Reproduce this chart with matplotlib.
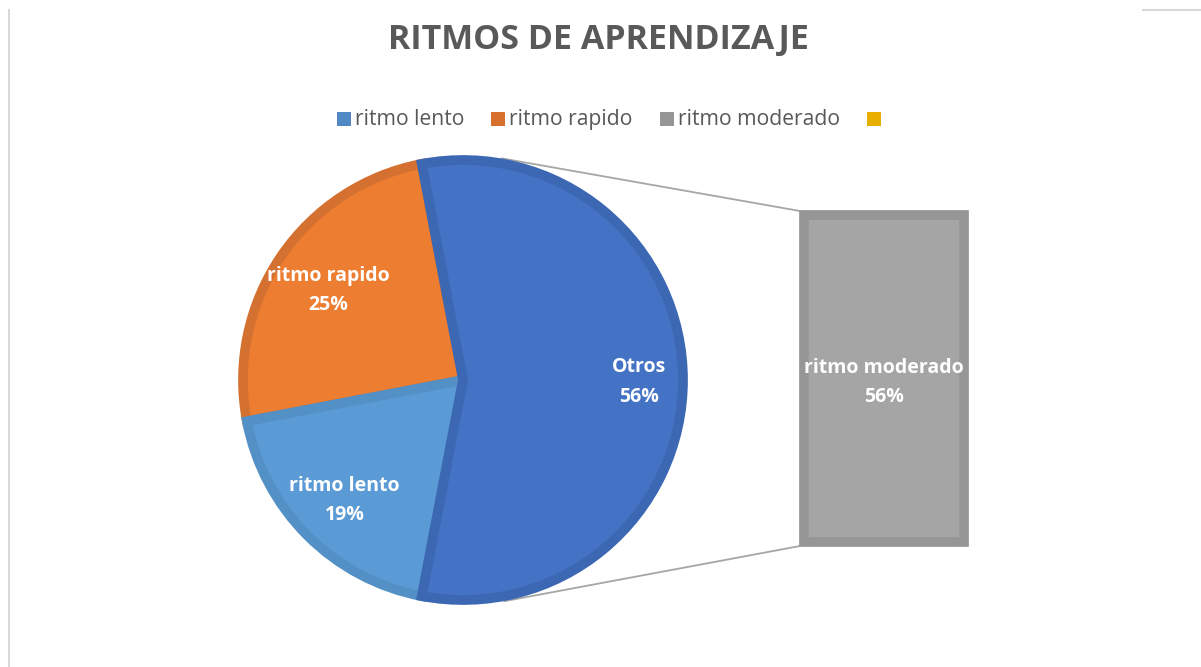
import numpy as np
import matplotlib
matplotlib.use("Agg")
import matplotlib.pyplot as plt
from matplotlib.patches import Rectangle
from matplotlib.lines import Line2D

plt.rcParams['font.family'] = ['Open Sans', 'DejaVu Sans']

# ---- data ----
title = "RITMOS DE APRENDIZAJE"
legend_labels = ["ritmo lento", "ritmo rapido", "ritmo moderado", ""]
pie_labels = ["Otros", "ritmo rapido", "ritmo lento"]
pie_values = [56, 25, 19]
bar_labels = ["ritmo moderado"]
bar_values = [56]

face_cols = ["#4472C4", "#ED7D31", "#5B9BD5"]
edge_cols = ["#3C67B3", "#D57130", "#5290C6"]
legend_cols = ["#5089C3", "#D6702C", "#969696", "#E8AE00"]
bar_face = "#A5A5A5"
bar_edge = "#969696"

W, H = 1201, 667
fig = plt.figure(figsize=(W / 100, H / 100), dpi=100)
ax = fig.add_axes([0, 0, 1, 1])

cx, cy, R = 463, H - 380, 220
total = sum(pie_values)
start = -pie_values[0] / total * 180.0
wedges, _ = ax.pie(pie_values, startangle=start, counterclock=True,
                   center=(cx, cy), radius=R, frame=True,
                   colors=face_cols,
                   wedgeprops=dict(linewidth=7, joinstyle='miter'))
for w, ec, z in zip(wedges, edge_cols, [3, 1, 2]):
    w.set_edgecolor(ec)
    w.set_zorder(z)

# labels on pie
dists = [0.80, 0.74, 0.76]
angle = start
for lab, v, d in zip(pie_labels, pie_values, dists):
    span = v / total * 360.0
    mid = np.deg2rad(angle + span / 2)
    ax.text(cx + d * R * np.cos(mid), cy + d * R * np.sin(mid) - 2,
            f"{lab}\n{v / total * 100:.0f}%", ha='center', va='center',
            color='white', fontsize=14, fontweight='bold', linespacing=1.6, zorder=5)
    angle += span

# bar of the "Otros" group
bx, bw = 884, 160
btop = H - 215
bh = 327
scale = bh / bar_values[0]
ax.bar([bx], [bar_values[0] * scale], width=bw, bottom=btop - bar_values[0] * scale,
       color=bar_face, edgecolor=bar_edge, linewidth=7, joinstyle='miter')
ax.text(bx, btop - bar_values[0] * scale / 2 - 4,
        f"{bar_labels[0]}\n{bar_values[0] / total * 100:.0f}%", ha='center', va='center',
        color='white', fontsize=14, fontweight='bold', linespacing=1.6, zorder=5)

# connector lines (tangent from bar corners to the pie)
Ro = R + 5
for px, py, sgn in [(bx - bw / 2 - 4, btop + 4, 1), (bx - bw / 2 - 4, btop - bh - 4, -1)]:
    dx, dy = px - cx, py - cy
    d = np.hypot(dx, dy)
    th = np.arctan2(dy, dx) + sgn * np.arccos(Ro / d)
    ax.plot([cx + Ro * np.cos(th), px], [cy + Ro * np.sin(th), py],
            color='#A6A6A6', lw=1.3, zorder=0)

ax.set_xlim(0, W)
ax.set_ylim(0, H)
ax.set_aspect('auto')
ax.axis('off')

# chart border fragments
fig.add_artist(Line2D([9 / W, 9 / W], [0, 1 - 10 / H], color='#D9D9D9', lw=1.5))
fig.add_artist(Line2D([1143 / W, 1], [1 - 10 / H, 1 - 10 / H], color='#D9D9D9', lw=1.5))

fig.text(598 / W, 1 - 40 / H, title, ha='center', va='center', fontsize=24.5,
         fontweight='bold', color='#595959')

# manual legend (pixel layout)
renderer = fig.canvas.get_renderer()
lx = 337.0
sq = 14
base_y = H - 125
for lab, col in zip(legend_labels, legend_cols):
    ax.add_patch(Rectangle((lx, H - 126), sq, sq, facecolor=col, edgecolor='none'))
    tx = lx + sq + 4
    t = ax.text(tx, base_y, lab, ha='left', va='baseline', fontsize=15.2, color='#595959')
    wpx = t.get_window_extent(renderer).width if lab else 0
    lx = tx + wpx + 27

fig.savefig("out.png", dpi=100)
